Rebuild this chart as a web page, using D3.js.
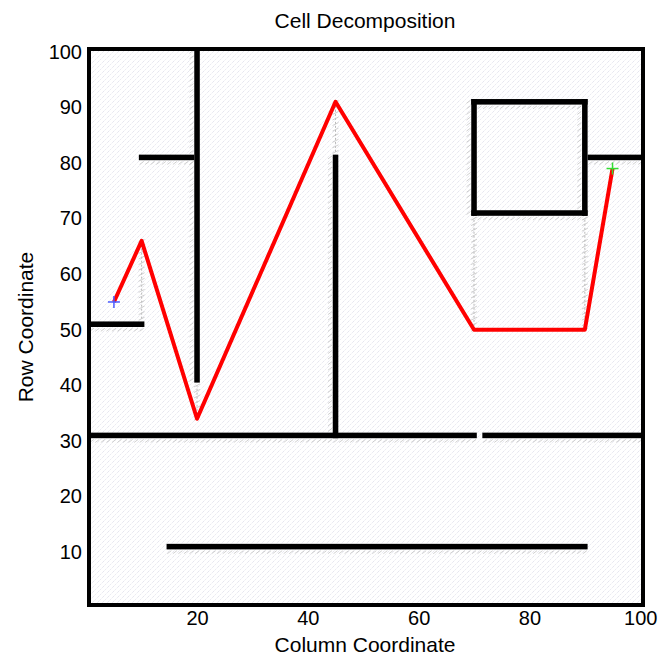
<!DOCTYPE html>
<html>
<head>
<meta charset="utf-8">
<script src="https://cdn.jsdelivr.net/npm/d3@7"></script>
<style>
  body { margin: 0; background: #fff; }
  text { font-family: "Liberation Sans", Arial, sans-serif; fill: #000; }
</style>
</head>
<body>
<svg id="chart" width="660" height="656"></svg>
<script>
// obstacle walls in grid cells: [x1, y1, x2, y2]
const walls = [
  [20, 41, 20, 100],
  [10, 81, 19, 81],
  [1, 51, 10, 51],
  [45, 31, 45, 81],
  [1, 31, 70, 31],
  [72, 31, 100, 31],
  [70, 71, 90, 71],
  [70, 91, 90, 91],
  [70, 71, 70, 91],
  [90, 71, 90, 91],
  [91, 81, 100, 81],
  [15, 11, 90, 11]
];

// cell boundaries crossed by the path: [x, yFrom, yTo]
const boundaries = [
  [10, 52, 66],
  [20, 34, 40],
  [45, 82, 91],
  [70, 50, 70],
  [90, 50, 70]
];

// planned path (column, row)
const pathX = [5, 10, 20, 45, 70, 90, 95];
const pathY = [55, 66, 34, 91, 50, 50, 79];

const start = [5, 55];
const goal = [95, 79];

const xTicks = [20, 40, 60, 80, 100];
const yTicks = [10, 20, 30, 40, 50, 60, 70, 80, 90, 100];

const svg = d3.select('#chart');
const mLeft = 89, mRight = 643, mTop = 49, mBottom = 605;

const x = d3.scaleLinear().domain([0.5, 100.5]).range([mLeft, mRight]);
const y = d3.scaleLinear().domain([0.5, 100.5]).range([mBottom, mTop]);

// faint diagonal hatch background
const defs = svg.append('defs');
const pat = defs.append('pattern')
  .attr('id', 'hatch')
  .attr('patternUnits', 'userSpaceOnUse')
  .attr('width', 5).attr('height', 5);
pat.append('path')
  .attr('d', 'M-1,6 L6,-1 M-1,1 L1,-1 M4,6 L6,4')
  .attr('stroke', '#d2d2e2')
  .attr('stroke-width', 0.8)
  .attr('stroke-dasharray', '1,1');

svg.append('rect')
  .attr('x', mLeft).attr('y', mTop)
  .attr('width', mRight - mLeft).attr('height', mBottom - mTop)
  .attr('fill', 'url(#hatch)');

// gray dashed cell boundaries with tick marks
const gb = svg.append('g');
boundaries.forEach(([bx, y0, y1]) => {
  gb.append('line')
    .attr('x1', x(bx)).attr('x2', x(bx))
    .attr('y1', y(y0)).attr('y2', y(y1))
    .attr('stroke', '#b8b8b8')
    .attr('stroke-width', 1)
    .attr('stroke-dasharray', '2,2');
  d3.range(y0, y1 + 1).forEach(r => {
    gb.append('line')
      .attr('x1', x(bx) - 3).attr('x2', x(bx) + 3)
      .attr('y1', y(r) + 1.5).attr('y2', y(r) - 1.5)
      .attr('stroke', '#c4c4c4')
      .attr('stroke-width', 0.8);
  });
});

// gray tick rows alongside the walls
const gw = svg.append('g');
walls.forEach(([x1, y1, x2, y2]) => {
  if (y1 === y2) {
    d3.range(x1, x2 + 1).forEach(c => {
      gw.append('line')
        .attr('x1', x(c) - 2).attr('x2', x(c) + 2)
        .attr('y1', y(y1 - 1) + 1.5).attr('y2', y(y1 - 1) - 1.5)
        .attr('stroke', '#c4c4c4').attr('stroke-width', 0.8);
    });
  } else {
    d3.range(y1, y2 + 1).forEach(r => {
      gw.append('line')
        .attr('x1', x(x1 - 1) - 2).attr('x2', x(x1 - 1) + 2)
        .attr('y1', y(r) + 1.5).attr('y2', y(r) - 1.5)
        .attr('stroke', '#c4c4c4').attr('stroke-width', 0.8);
    });
  }
});

// black obstacle walls, one cell thick
svg.append('g').selectAll('rect')
  .data(walls)
  .join('rect')
  .attr('x', d => x(Math.min(d[0], d[2]) - 0.5))
  .attr('y', d => y(Math.max(d[1], d[3]) + 0.5))
  .attr('width', d => x(Math.max(d[0], d[2]) + 0.5) - x(Math.min(d[0], d[2]) - 0.5))
  .attr('height', d => y(Math.min(d[1], d[3]) - 0.5) - y(Math.max(d[1], d[3]) + 0.5))
  .attr('fill', '#000');

// path
const line = d3.line().x(i => x(pathX[i])).y(i => y(pathY[i]));
svg.append('path')
  .attr('d', line(d3.range(pathX.length)))
  .attr('fill', 'none')
  .attr('stroke', '#ff0000')
  .attr('stroke-width', 4)
  .attr('stroke-linejoin', 'round');

// start / goal markers
function plus(pt, color) {
  const g = svg.append('g').attr('transform', `translate(${x(pt[0])},${y(pt[1])})`);
  g.append('line').attr('x1', -6).attr('x2', 6).attr('stroke', color).attr('stroke-width', 1.5);
  g.append('line').attr('y1', -6).attr('y2', 6).attr('stroke', color).attr('stroke-width', 1.5);
}
plus(start, '#4a5cff');
plus(goal, '#33dd33');

// frame
svg.append('rect')
  .attr('x', mLeft).attr('y', mTop)
  .attr('width', mRight - mLeft).attr('height', mBottom - mTop)
  .attr('fill', 'none')
  .attr('stroke', '#000')
  .attr('stroke-width', 4);

// axes labels
const xAxis = d3.axisBottom(x).tickValues(xTicks).tickSize(0).tickPadding(6);
svg.append('g').attr('transform', `translate(0,${mBottom})`).call(xAxis)
  .call(g => g.select('.domain').remove())
  .selectAll('text').style('font-size', '20px').attr('font-family', null);

const yAxis = d3.axisLeft(y).tickValues(yTicks).tickSize(0).tickPadding(7);
svg.append('g').attr('transform', `translate(${mLeft},0)`).call(yAxis)
  .call(g => g.select('.domain').remove())
  .selectAll('text').style('font-size', '20px').attr('font-family', null);

svg.append('text')
  .attr('x', 365).attr('y', 28)
  .attr('text-anchor', 'middle')
  .style('font-size', '21px')
  .text('Cell Decomposition');

svg.append('text')
  .attr('x', 365).attr('y', 652)
  .attr('text-anchor', 'middle')
  .style('font-size', '21px')
  .text('Column Coordinate');

svg.append('text')
  .attr('transform', 'translate(33,327) rotate(-90)')
  .attr('text-anchor', 'middle')
  .style('font-size', '21px')
  .text('Row Coordinate');
</script>
</body>
</html>
